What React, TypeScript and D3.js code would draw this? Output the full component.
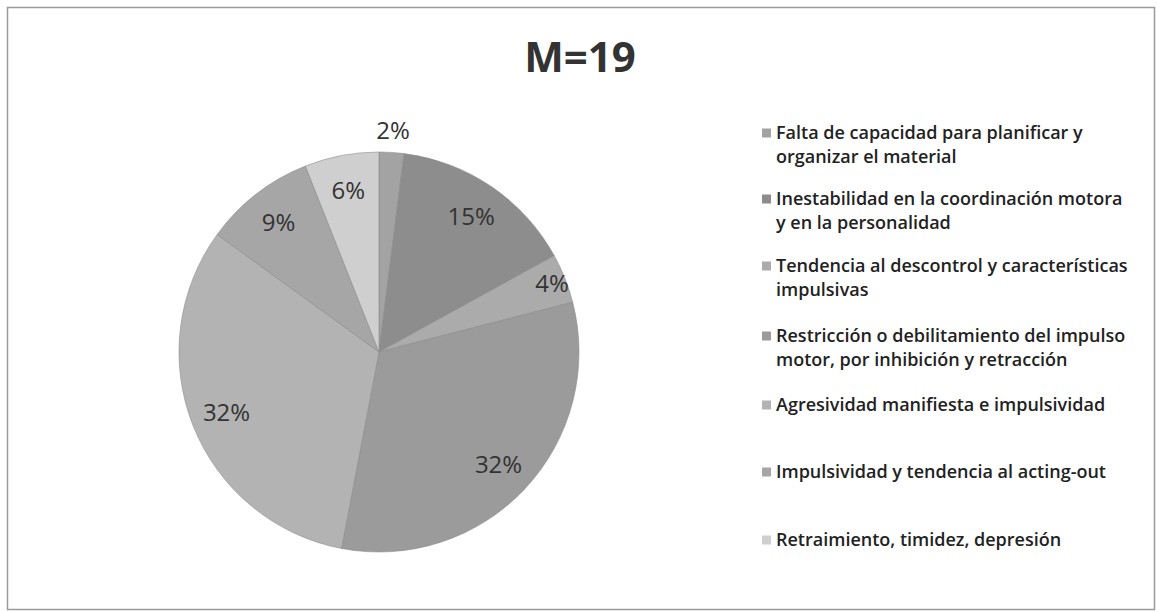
import React from "react";
import * as d3 from "d3";

const categories = [
  "Falta de capacidad para planificar y organizar el material",
  "Inestabilidad en la coordinación motora y en la personalidad",
  "Tendencia al descontrol y características impulsivas",
  "Restricción o debilitamiento del impulso motor, por inhibición y retracción",
  "Agresividad manifiesta e impulsividad",
  "Impulsividad y tendencia al acting-out",
  "Retraimiento, timidez, depresión",
];
const legendLines = [
  ["Falta de capacidad para planificar y", "organizar el material"],
  ["Inestabilidad en la coordinación motora", "y en la personalidad"],
  ["Tendencia al descontrol y características", "impulsivas"],
  ["Restricción o debilitamiento del impulso", "motor, por inhibición y retracción"],
  ["Agresividad manifiesta e impulsividad"],
  ["Impulsividad y tendencia al acting-out"],
  ["Retraimiento, timidez, depresión"],
];
const values = [2, 15, 4, 32, 32, 9, 6];
const colors = ["#a3a3a3", "#8d8d8d", "#ababab", "#9b9b9b", "#b3b3b3", "#a6a6a6", "#cfcfcf"];
const title = "M=19";

const W = 1157;
const H = 611;
const cx = 379;
const cy = 352;
const R = 200;
const FONT = "'Open Sans', 'Noto Sans', sans-serif";

export default function App() {
  const pie = d3.pie<number>().sort(null).value((d) => d)(values);
  const arc = d3.arc<d3.PieArcDatum<number>>().innerRadius(0).outerRadius(R);
  const total = d3.sum(values);
  const legendY = [133, 199, 266, 336, 405, 472, 540];
  return (
    <div style={{ position: "absolute", left: 0, top: 0 }}>
      <svg width={W} height={H} style={{ display: "block" }}>
        <rect x={0} y={0} width={W} height={H} fill="#ffffff" />
        <rect x={7.5} y={7.5} width={1147} height={602} fill="none" stroke="#9a9a9a" strokeWidth={1.5} />
        <text x={580} y={72} textAnchor="middle" fontFamily={FONT} fontWeight={700} fontSize={42} fill="#333">
          {title}
        </text>
        <g transform={`translate(${cx},${cy})`}>
          {pie.map((d, i) => (
            <path key={i} d={arc(d) || ""} fill={colors[i]} stroke="#8c8c8c" strokeWidth={0.6} />
          ))}
          {pie.map((d, i) => {
            const pct = Math.round((d.value / total) * 100);
            const mid = (d.startAngle + d.endAngle) / 2;
            let r = 0.82 * R;
            if (pct < 3) r = 1.11 * R;
            else if (pct < 5) r = 0.93 * R;
            const x = r * Math.sin(mid);
            const y = -r * Math.cos(mid);
            return (
              <text key={i} x={x} y={y} dy="0.35em" textAnchor="middle" fontFamily={FONT} fontSize={24} fill="#333">
                {pct}%
              </text>
            );
          })}
        </g>
        {legendLines.map((lines, i) => (
          <g key={i}>
            <rect x={762} y={legendY[i] - 4.5} width={9} height={9} fill={colors[i]} />
            {lines.map((t, j) => (
              <text key={j} x={776} y={legendY[i] + j * 24} dy="0.35em" fontFamily={FONT} fontWeight={600} fontSize={18} fill="#222">
                {t}
              </text>
            ))}
          </g>
        ))}
      </svg>
    </div>
  );
}
